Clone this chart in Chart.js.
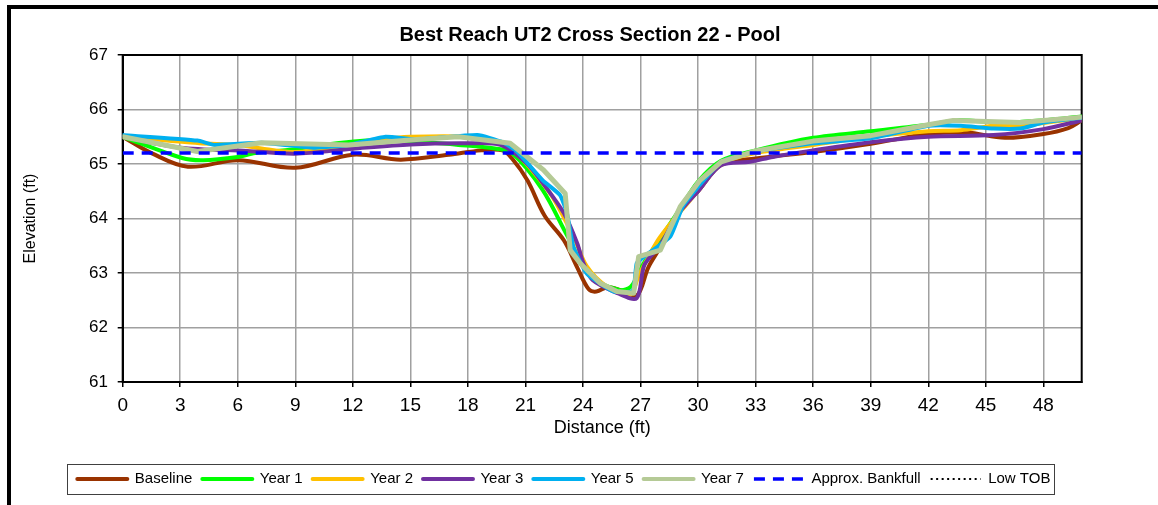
<!DOCTYPE html>
<html>
<head>
<meta charset="utf-8">
<script src="https://cdn.jsdelivr.net/npm/chart.js@4.4.1/dist/chart.umd.min.js"></script>
<style>
  html, body { margin: 0; padding: 0; background: #fff; }
</style>
</head>
<body>
<canvas id="xs-chart" width="1158" height="505"></canvas>
<script>
// cross section survey data, distance (ft) vs elevation (ft)
const chartTitle = 'Best Reach UT2 Cross Section 22 - Pool';

const baseDist = [0, 1.5, 3.4, 6, 9, 12, 14.5, 17, 18.7, 19.8, 20.3, 21.1, 22, 23, 23.7, 24.3, 24.7, 25.3, 26, 26.8, 27.4, 27.9, 29.2, 30, 31.2, 33, 36, 39, 42, 44, 46, 48, 49.3, 50];
const baseElev = [65.5, 65.2, 64.95, 65.07, 64.93, 65.17, 65.08, 65.17, 65.25, 65.25, 65.1, 64.7, 64.05, 63.6, 63.1, 62.7, 62.66, 62.74, 62.68, 62.58, 63.1, 63.4, 64.2, 64.5, 64.98, 65.1, 65.22, 65.37, 65.55, 65.58, 65.48, 65.55, 65.66, 65.8];

const y1Dist = [0, 3.1, 4.2, 6, 6.9, 9, 10.4, 13.2, 15, 17.5, 19.5, 20.3, 21.9, 23.2, 24.4, 25.9, 26.5, 27.2, 28, 29, 30, 31.2, 33, 36, 39, 42, 43.5, 46, 48, 50];
const y1Elev = [65.5, 65.11, 65.07, 65.13, 65.2, 65.27, 65.35, 65.44, 65.42, 65.35, 65.28, 65.2, 64.52, 63.67, 62.93, 62.69, 62.75, 63.2, 63.62, 64.15, 64.68, 65.06, 65.25, 65.48, 65.6, 65.72, 65.8, 65.76, 65.8, 65.87];

const y2Dist = [0, 4, 6, 7.5, 9, 11, 13.5, 15, 18, 19.5, 20.5, 21.4, 22.4, 23.5, 24.2, 25.25, 26.46, 26.9, 27.9, 28.7, 29.5, 30.2, 31.2, 33, 36, 39, 42, 43.7, 45.4, 46.8, 48, 50];
const y2Elev = [65.5, 65.38, 65.35, 65.27, 65.22, 65.3, 65.45, 65.5, 65.5, 65.4, 65.2, 64.86, 64.4, 63.67, 63.12, 62.75, 62.6, 62.95, 63.6, 63.97, 64.3, 64.6, 65.0, 65.2, 65.35, 65.5, 65.6, 65.62, 65.7, 65.7, 65.75, 65.85];

const y3Dist = [0, 3, 6.5, 9, 12, 15, 18, 19.7, 21.07, 21.9, 23, 23.7, 24, 24.5, 25.8, 26.8, 27.2, 28, 29, 30, 31.2, 32.7, 33.9, 36, 39, 42, 45.4, 48, 50];
const y3Elev = [65.5, 65.3, 65.24, 65.19, 65.28, 65.36, 65.38, 65.35, 65.01, 64.65, 64.1, 63.54, 63.2, 62.87, 62.63, 62.54, 63.15, 63.5, 64.1, 64.5, 64.98, 65.04, 65.13, 65.25, 65.4, 65.5, 65.53, 65.64, 65.8];

const y5Dist = [0, 3.9, 4.8, 7.25, 10, 11.8, 13.7, 15.3, 18.5, 19.8, 20.55, 21.9, 22.8, 23.16, 23.5, 24.2, 25.6, 26.6, 26.8, 27.3, 28.55, 29.2, 30, 31.2, 33, 36, 39, 42, 43.7, 45.4, 46.8, 48, 50];
const y5Elev = [65.53, 65.43, 65.35, 65.39, 65.3, 65.35, 65.5, 65.45, 65.53, 65.4, 65.23, 64.7, 64.43, 64.1, 63.48, 62.99, 62.66, 62.68, 63.18, 63.33, 63.67, 64.22, 64.58, 65.04, 65.23, 65.38, 65.47, 65.7, 65.7, 65.65, 65.65, 65.76, 65.85];

const y7Dist = [0, 3.9, 7.25, 11.8, 15.3, 17.5, 20.2, 21.94, 23.07, 23.33, 23.85, 24.9, 25.77, 26.64, 26.9, 28.03, 29.07, 30.1, 31.2, 33, 36, 39, 42, 43.3, 46.8, 50];
const y7Elev = [65.5, 65.23, 65.39, 65.35, 65.45, 65.5, 65.38, 64.89, 64.46, 63.42, 63.18, 62.81, 62.66, 62.63, 63.3, 63.42, 64.22, 64.7, 65.04, 65.24, 65.42, 65.52, 65.72, 65.8, 65.76, 65.86];

const bankDist = [0, 50];
const bankElev = [65.2, 65.2];

const seriesLabels = ['Baseline', 'Year 1', 'Year 2', 'Year 3', 'Year 5', 'Year 7', 'Approx. Bankfull', 'Low TOB'];
const seriesColors = ['#993300', '#00ff00', '#ffc000', '#7030a0', '#00b0f0', '#b5ca96', '#0000ff', '#000000'];

const pts = (d, e) => d.map((x, i) => ({ x: x, y: e[i] }));

function line(i, data, width, tension, order) {
  return {
    label: seriesLabels[i],
    data: data,
    borderColor: seriesColors[i],
    backgroundColor: seriesColors[i],
    borderWidth: width,
    tension: tension,
    pointRadius: 0,
    fill: false,
    borderJoinStyle: 'round',
    borderCapStyle: 'round',
    order: order
  };
}

const datasets = [
  line(0, pts(baseDist, baseElev), 4, 0.35, 6),
  line(1, pts(y1Dist, y1Elev), 4, 0.3, 5),
  line(2, pts(y2Dist, y2Elev), 4, 0.3, 4),
  line(3, pts(y3Dist, y3Elev), 4, 0.3, 3),
  line(4, pts(y5Dist, y5Elev), 4, 0.15, 2),
  line(5, pts(y7Dist, y7Elev), 5, 0, 1)
];
const bank = line(6, pts(bankDist, bankElev), 3.5, 0, 0);
bank.borderDash = [11, 8];
bank.borderCapStyle = 'butt';
datasets.push(bank);
const lowTob = line(7, [], 2, 0, 0);
lowTob.borderDash = [2, 3.5];
lowTob.borderCapStyle = 'butt';
datasets.push(lowTob);

const extras = {
  id: 'extras',
  beforeDraw(chart) {
    const c = chart.ctx;
    c.save();
    c.fillStyle = '#fff';
    c.fillRect(0, 0, chart.width, chart.height);
    c.fillStyle = '#000';
    c.fillRect(7, 5, 4, chart.height - 5);
    c.fillRect(7, 5, chart.width - 7, 4);
    c.restore();
  },
  beforeDatasetsDraw(chart) {
    const a = chart.chartArea, c = chart.ctx;
    c.save();
    c.strokeStyle = '#000';
    c.lineWidth = 2;
    c.strokeRect(a.left, a.top, a.right - a.left, a.bottom - a.top);
    c.restore();
  },
  afterDraw(chart) {
    const c = chart.ctx;
    c.save();
    c.fillStyle = '#000';
    c.font = "bold 20px 'Liberation Sans', Arial, sans-serif";
    c.textAlign = 'center';
    c.textBaseline = 'middle';
    c.fillText(chartTitle, 590, 35);
    // box round the legend
    const boxes = chart.legend.legendHitBoxes;
    if (boxes && boxes.length) {
      const first = boxes[0], last = boxes[boxes.length - 1];
      const cy = first.top + first.height / 2;
      c.strokeStyle = '#404040';
      c.lineWidth = 1;
      c.strokeRect(Math.round(first.left - 10) + 0.5, Math.round(cy - 15) + 0.5,
        Math.round(last.left + last.width - first.left + 14), 30);
    }
    c.restore();
  }
};

Chart.defaults.font.family = "'Liberation Sans', Arial, sans-serif";
Chart.defaults.color = '#000';

const ctx = document.getElementById('xs-chart').getContext('2d');
const chart = new Chart(ctx, {
  type: 'line',
  data: { datasets: datasets },
  options: {
    responsive: false,
    animation: false,
    layout: { padding: { top: 55, left: 46, right: 76.3, bottom: 8.5 } },
    plugins: {
      title: { display: false },
      tooltip: { enabled: false },
      legend: {
        position: 'bottom',
        labels: {
          usePointStyle: true,
          pointStyleWidth: 50,
          padding: 10,
          font: { size: 15 },
          generateLabels(ch) {
            return ch.data.datasets.map((ds, i) => ({
              text: ds.label,
              datasetIndex: i,
              fillStyle: ds.borderColor,
              strokeStyle: ds.borderColor,
              lineWidth: i === 7 ? 2 : (i === 6 ? 3.5 : 4),
              lineDash: ds.borderDash || [],
              lineCap: ds.borderDash ? 'butt' : 'round',
              pointStyle: 'line',
              hidden: false,
              fontColor: '#000'
            }));
          }
        }
      }
    },
    scales: {
      x: {
        type: 'linear',
        min: 0,
        max: 50,
        ticks: { stepSize: 3, includeBounds: false, maxTicksLimit: 20, padding: 7, font: { size: 19 } },
        grid: { color: '#a0a0a0', lineWidth: 1.5, tickLength: 5, tickColor: '#000', tickWidth: 1.5 },
        border: { color: '#000', width: 2 },
        title: { display: true, text: 'Distance (ft)', font: { size: 18 }, padding: { top: 0, bottom: 22.7 } },
        afterFit(s) { s.height = 79.5; }
      },
      y: {
        min: 61,
        max: 67,
        ticks: { stepSize: 1, padding: 9.7, font: { size: 17 } },
        grid: { color: '#a0a0a0', lineWidth: 1.5, tickLength: 5, tickColor: '#000', tickWidth: 1.5 },
        border: { color: '#000', width: 2 },
        title: { display: true, text: 'Elevation (ft)', font: { size: 16 }, padding: { top: -24.6, bottom: 0 } },
        afterFit(s) { s.width = 76.7; }
      }
    }
  },
  plugins: [extras]
});
</script>
</body>
</html>
